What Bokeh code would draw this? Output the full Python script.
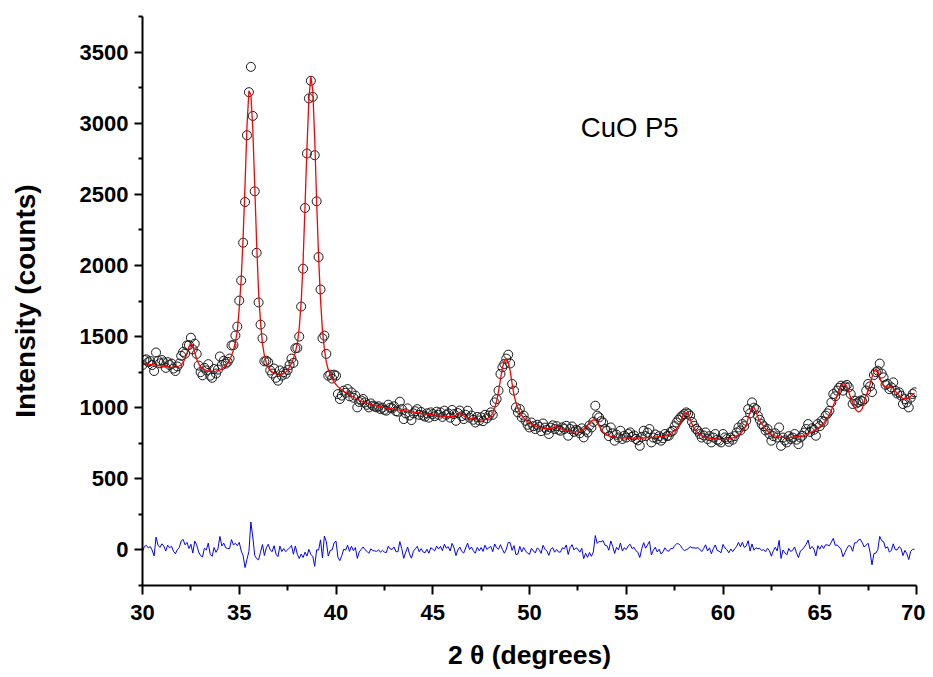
import numpy as np
from bokeh.plotting import figure
from bokeh.models import FixedTicker, Label
from bokeh.embed import file_html
from bokeh.resources import INLINE

# 2-theta sampling grid of the scan (step 0.1 deg)
two_theta_start = 30.0
two_theta_step = 0.1
n_points = 400

observed = [
    1300, 1335, 1340, 1320, 1328, 1300, 1258, 1388, 1330, 1312,
    1335, 1318, 1280, 1320, 1300, 1310, 1275, 1258, 1290, 1310,
    1365, 1392, 1380, 1438, 1440, 1492, 1410, 1450, 1378, 1296,
    1250, 1228, 1280, 1262, 1306, 1225, 1210, 1272, 1240, 1268,
    1360, 1300, 1330, 1310, 1322, 1345, 1438, 1440, 1507, 1570,
    1753, 1894, 2160, 2446, 2915, 3218, 3396, 3051, 2521, 2089,
    1740, 1584, 1488, 1326, 1330, 1320, 1262, 1240, 1275, 1210,
    1190, 1262, 1225, 1250, 1238, 1265, 1300, 1345, 1315, 1418,
    1420, 1500, 1711, 1977, 2404, 2787, 3174, 3298, 3185, 2775,
    2451, 2059, 1831, 1488, 1507, 1378, 1225, 1232, 1205, 1232,
    1225, 1096, 1061, 1085, 1120, 1105, 1131, 1080, 1108, 1070,
    1085, 1002, 1040, 1050, 1061, 1037, 1020, 1002, 1030, 1014,
    1008, 1002, 1010, 990, 1000, 985, 979, 1021, 1000, 995,
    1010, 975, 972, 1042, 990, 920, 960, 995, 945, 913,
    960, 975, 990, 950, 970, 945, 937, 960, 930, 967,
    955, 940, 972, 950, 967, 935, 979, 950, 960, 930,
    984, 955, 908, 962, 980, 940, 920, 950, 979, 930,
    945, 915, 896, 935, 910, 932, 905, 950, 925, 945,
    967, 950, 1037, 1060, 1120, 1237, 1284, 1307, 1345, 1373,
    1311, 1167, 1120, 1002, 967, 990, 932, 945, 908, 880,
    861, 896, 870, 850, 880, 865, 835, 889, 860, 845,
    815, 860, 876, 850, 870, 845, 838, 862, 850, 873,
    803, 850, 868, 830, 845, 838, 820, 855, 791, 840,
    826, 875, 861, 900, 1014, 944, 932, 905, 896, 850,
    838, 800, 861, 820, 768, 810, 790, 838, 780, 803,
    790, 815, 826, 795, 805, 780, 770, 732, 795, 838,
    800, 825, 850, 756, 790, 812, 780, 800, 768, 785,
    815, 800, 803, 830, 838, 870, 896, 915, 932, 945,
    955, 967, 958, 944, 900, 873, 850, 838, 815, 790,
    805, 826, 780, 800, 756, 790, 815, 775, 768, 756,
    815, 791, 780, 760, 790, 775, 800, 826, 861, 840,
    885, 870, 908, 990, 960, 1037, 1000, 990, 944, 915,
    885, 870, 840, 850, 815, 768, 800, 820, 790, 861,
    732, 790, 770, 756, 800, 780, 790, 815, 775, 744,
    790, 803, 825, 850, 885, 830, 855, 845, 803, 885,
    870, 908, 900, 944, 960, 979, 1037, 1096, 1080, 1120,
    1140, 1155, 1120, 1150, 1160, 1143, 1096, 1026, 1050, 1030,
    1040, 1050, 1045, 1060, 1120, 1167, 1150, 1110, 1230, 1250,
    1260, 1310, 1240, 1213, 1160, 1167, 1130, 1143, 1178, 1120,
    1100, 1108, 1085, 1026, 1060, 1037, 1002, 1070, 1096, 1108,
]

fitted = [
    1312, 1310, 1308, 1306, 1304, 1302, 1300, 1298, 1296, 1294,
    1292, 1290, 1288, 1286, 1285, 1284, 1284, 1285, 1288, 1293,
    1302, 1318, 1344, 1385, 1430, 1452, 1432, 1388, 1342, 1310,
    1290, 1277, 1268, 1262, 1258, 1256, 1255, 1255, 1257, 1260,
    1265, 1272, 1282, 1295, 1312, 1335, 1365, 1405, 1460, 1540,
    1700, 1900, 2200, 2570, 2980, 3228, 3200, 2960, 2560, 2150,
    1810, 1600, 1450, 1365, 1315, 1280, 1262, 1252, 1245, 1240,
    1237, 1235, 1236, 1240, 1250, 1264, 1285, 1314, 1345, 1390,
    1450, 1560, 1740, 2030, 2420, 2830, 3170, 3330, 3230, 2890,
    2450, 2060, 1760, 1545, 1410, 1320, 1268, 1235, 1205, 1182,
    1163, 1148, 1136, 1125, 1115, 1106, 1098, 1090, 1082, 1075,
    1068, 1061, 1054, 1047, 1040, 1035, 1030, 1026, 1022, 1018,
    1015, 1012, 1009, 1006, 1003, 1000, 998, 995, 993, 991,
    989, 987, 985, 983, 981, 979, 977, 975, 973, 971,
    969, 967, 965, 963, 961, 959, 957, 955, 953, 951,
    949, 947, 945, 943, 942, 940, 939, 938, 937, 937,
    938, 941, 948, 962, 960, 950, 942, 936, 931, 927,
    924, 921, 919, 917, 916, 915, 915, 917, 921, 929,
    942, 962, 995, 1045, 1115, 1200, 1280, 1330, 1342, 1320,
    1260, 1170, 1090, 1035, 995, 965, 945, 928, 915, 903,
    892, 884, 877, 871, 866, 862, 859, 856, 854, 853,
    853, 855, 860, 866, 866, 860, 853, 847, 842, 838,
    835, 833, 831, 830, 830, 832, 836, 843, 852, 864,
    878, 893, 906, 914, 913, 898, 872, 848, 830, 817,
    808, 802, 798, 795, 793, 791, 790, 789, 788, 788,
    787, 787, 786, 786, 786, 786, 786, 786, 787, 787,
    788, 789, 790, 791, 792, 793, 794, 795, 796, 798,
    800, 805, 812, 820, 830, 840, 853, 872, 900, 935,
    960, 966, 950, 920, 885, 858, 838, 822, 810, 801,
    795, 790, 787, 785, 783, 781, 780, 779, 777, 776,
    776, 777, 778, 780, 783, 787, 793, 802, 808, 818,
    832, 852, 880, 925, 968, 995, 1002, 975, 935, 905,
    888, 868, 852, 838, 820, 812, 806, 801, 797, 794,
    792, 791, 790, 790, 790, 791, 792, 794, 796, 798,
    798, 801, 805, 810, 816, 823, 831, 839, 846, 855,
    865, 876, 890, 908, 925, 950, 982, 1015, 1048, 1085,
    1120, 1150, 1168, 1170, 1150, 1112, 1070, 1035, 1000, 980,
    970, 975, 995, 1040, 1085, 1120, 1165, 1215, 1255, 1272,
    1258, 1215, 1175, 1155, 1148, 1145, 1146, 1145, 1135, 1118,
    1100, 1085, 1073, 1066, 1063, 1064, 1070, 1080, 1092, 1103,
]

x_ticks = [30, 35, 40, 45, 50, 55, 60, 65, 70]
x_minor_ticks = [32.5, 37.5, 42.5, 47.5, 52.5, 57.5, 62.5, 67.5]
y_ticks = [0, 500, 1000, 1500, 2000, 2500, 3000, 3500]
y_minor_ticks = [-250, 250, 750, 1250, 1750, 2250, 2750, 3250, 3750]

sample_label = "CuO P5"
x_title = "2 \u03b8 (degrees)"
y_title = "Intensity (counts)"

two_theta = np.round(two_theta_start + two_theta_step * np.arange(n_points), 1)
obs = np.array(observed, dtype=float)
calc = np.array(fitted, dtype=float)
residual = obs - calc

FONT = "Liberation Sans"

p = figure(width=925, height=675, x_range=(30, 70), y_range=(-250, 3750),
           output_backend="svg", toolbar_location=None,
           min_border_left=142, min_border_right=9, min_border_top=16,
           min_border_bottom=90)
p.outline_line_color = None
p.xgrid.visible = False
p.ygrid.visible = False
p.background_fill_color = "white"
p.border_fill_color = "white"

p.scatter(two_theta, obs, marker="circle", size=9, fill_color=None,
          line_color="#1a1a1a", line_width=1)
p.line(two_theta, calc, line_color="red", line_width=1.3)
p.line(two_theta, residual, line_color="blue", line_width=1)

p.xaxis.ticker = FixedTicker(ticks=x_ticks, minor_ticks=x_minor_ticks)
p.yaxis.ticker = FixedTicker(ticks=y_ticks, minor_ticks=y_minor_ticks)

for ax in (p.xaxis[0], p.yaxis[0]):
    ax.axis_line_width = 2
    ax.axis_line_color = "black"
    ax.major_tick_line_width = 2
    ax.minor_tick_line_width = 2
    ax.major_tick_line_color = "black"
    ax.minor_tick_line_color = "black"
    ax.major_tick_in = 0
    ax.minor_tick_in = 0
    ax.major_label_text_font = FONT
    ax.major_label_text_font_style = "bold"
    ax.major_label_text_font_size = "22px"
    ax.major_label_text_color = "black"
    ax.axis_label_text_font = FONT
    ax.axis_label_text_font_style = "bold"
    ax.axis_label_text_color = "black"

p.xaxis.axis_label_text_font_size = "26.5px"
p.yaxis.axis_label_text_font_size = "28px"
p.xaxis.major_tick_out = 9
p.xaxis.minor_tick_out = 5
p.yaxis.major_tick_out = 8
p.yaxis.minor_tick_out = 4
p.xaxis.major_label_standoff = 10
p.yaxis.major_label_standoff = 6
p.xaxis.axis_label = x_title
p.yaxis.axis_label = y_title
p.xaxis.axis_label_standoff = 17
p.yaxis.axis_label_standoff = 36

p.add_layout(Label(x=52.65, y=2970, text=sample_label, text_font=FONT,
                   text_font_size="27.5px", text_baseline="middle",
                   text_color="black"))

open("out.html", "w").write(file_html(p, INLINE))
